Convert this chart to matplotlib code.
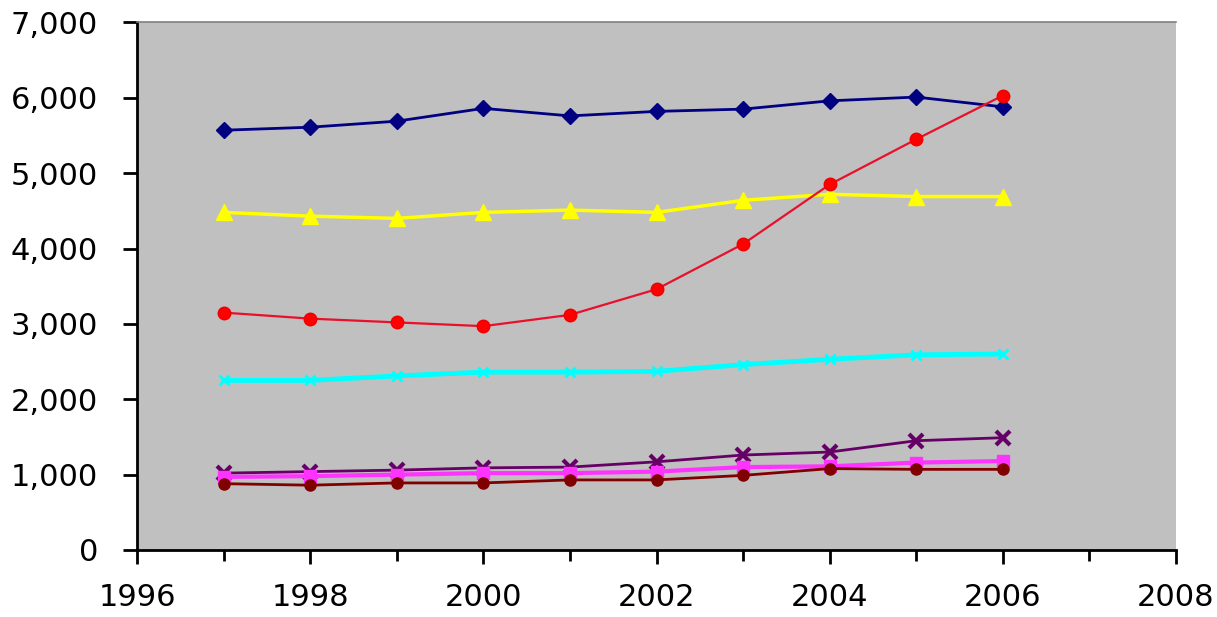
import matplotlib
matplotlib.use('Agg')
import matplotlib.pyplot as plt
from matplotlib.ticker import FuncFormatter, MultipleLocator

# Yearly values for each series
years = [1997, 1998, 1999, 2000, 2001, 2002, 2003, 2004, 2005, 2006]
navy_vals = [5570, 5610, 5690, 5860, 5760, 5820, 5850, 5960, 6010, 5880]
yellow_vals = [4480, 4430, 4400, 4480, 4510, 4480, 4640, 4720, 4690, 4690]
red_vals = [3150, 3070, 3020, 2970, 3120, 3460, 4060, 4850, 5450, 6030]
cyan_vals = [2250, 2250, 2310, 2360, 2360, 2370, 2460, 2530, 2590, 2600]
purple_vals = [1020, 1040, 1060, 1090, 1100, 1170, 1260, 1300, 1450, 1490]
magenta_vals = [970, 980, 1000, 1020, 1020, 1040, 1100, 1110, 1160, 1180]
maroon_vals = [880, 860, 890, 890, 930, 930, 990, 1080, 1070, 1070]

fig = plt.figure(figsize=(12.17, 6.17), dpi=100)
ax = fig.add_axes([0.1126, 0.1086, 0.8537, 0.855])
ax.set_facecolor('#c0c0c0')

ax.plot(years, navy_vals, color='#000080', lw=2, marker='D', ms=8)
ax.plot(years, yellow_vals, color='#ffff00', lw=2.5, marker='^', ms=11)
ax.plot(years, cyan_vals, color='#00ffff', lw=3.5, marker='x', ms=7, mew=2)
ax.plot(years, purple_vals, color='#660066', lw=2, marker='x', ms=10, mew=3)
ax.plot(years, magenta_vals, color='#ff33ff', lw=3, marker='s', ms=8)
ax.plot(years, maroon_vals, color='#800000', lw=2, marker='o', ms=8)
ax.plot(years, red_vals, color='#e8102a', lw=1.6, marker='o', ms=9,
        mfc='#ff0000', mec='#ee0000')

ax.set_xlim(1996, 2008)
ax.set_ylim(0, 7000)
ax.xaxis.set_major_locator(MultipleLocator(2))
ax.xaxis.set_minor_locator(MultipleLocator(1))
ax.yaxis.set_major_locator(MultipleLocator(1000))
ax.yaxis.set_major_formatter(FuncFormatter(lambda v, p: f"{int(v):,}"))

# plot area frame: solid axes on left/bottom, thin grey edge on top
ax.spines['right'].set_visible(False)
ax.spines['top'].set_color('#808080')
ax.spines['top'].set_linewidth(1.2)
for side in ['left', 'bottom']:
    ax.spines[side].set_linewidth(2)
    ax.spines[side].set_color('black')

ax.tick_params(axis='both', which='major', direction='out', length=10, width=2,
               labelsize=22, colors='black')
ax.tick_params(axis='x', which='minor', direction='out', length=8, width=2)
ax.tick_params(axis='x', which='major', pad=14)
ax.tick_params(axis='y', which='major', pad=18)
for lbl in ax.get_xticklabels() + ax.get_yticklabels():
    lbl.set_fontfamily('DejaVu Sans')

fig.savefig('out.png', dpi=100, facecolor='white')
